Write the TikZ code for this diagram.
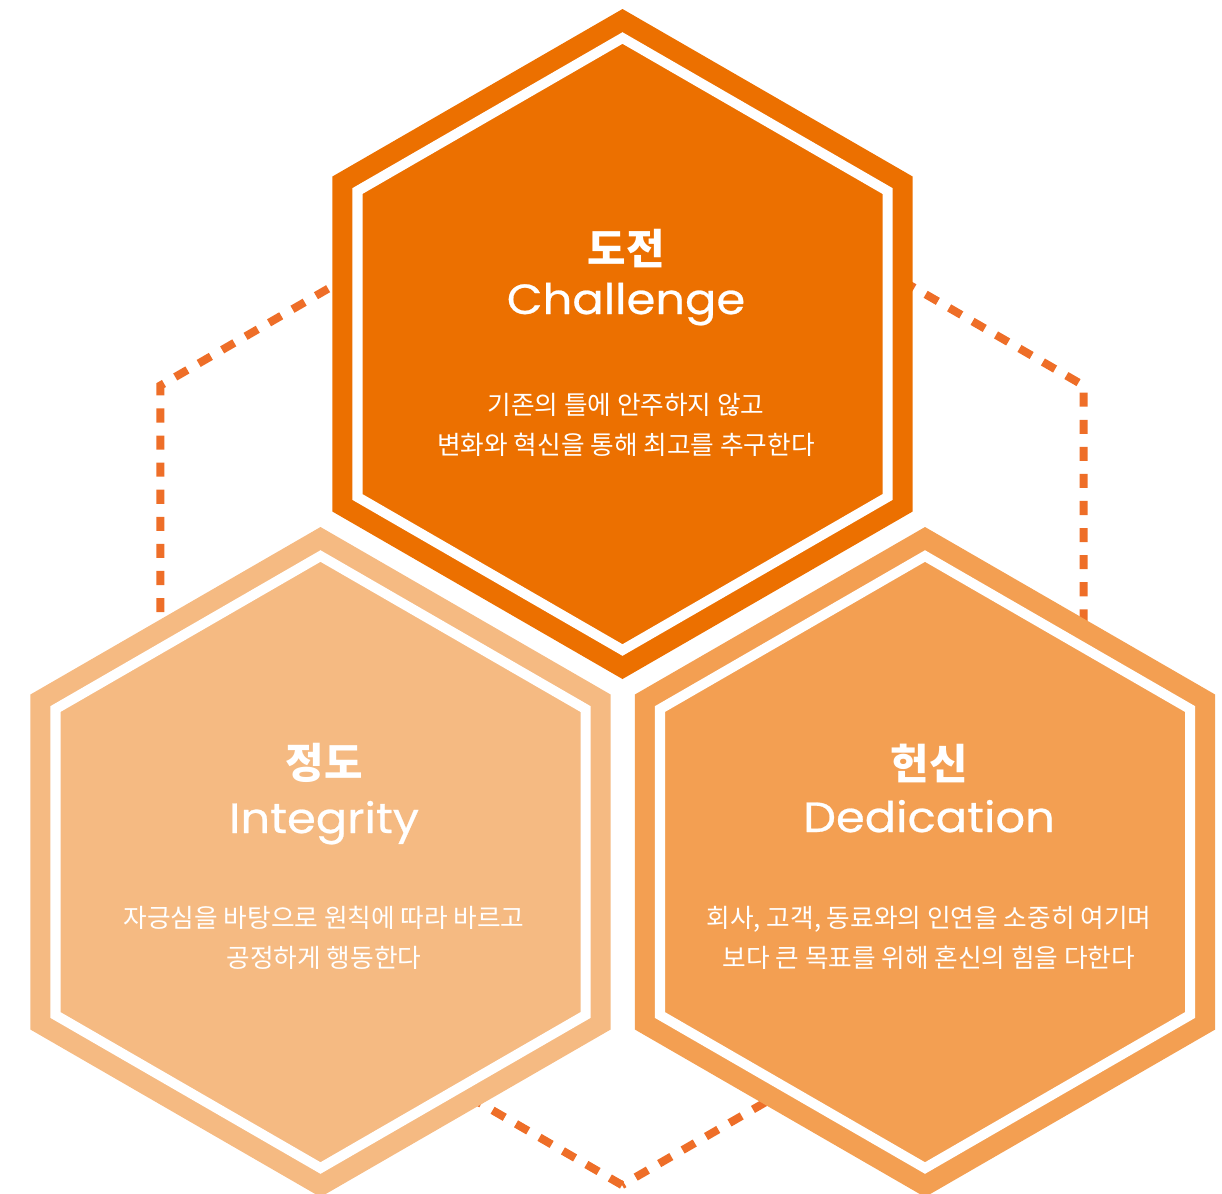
\documentclass[tikz,border=0pt]{standalone}
\usepackage{fontspec}
\setmainfont{Poppins}
\newfontfamily\enfont{Poppins}[FakeStretch=1.1,FakeBold=0.6]
\newfontfamily\krfont{Noto Sans CJK KR}
\usepackage{tikz}
\usetikzlibrary{calc}

\definecolor{chalcol}{HTML}{EC7000}
\definecolor{integcol}{HTML}{F5BA82}
\definecolor{dedicol}{HTML}{F39F52}
\definecolor{dotcol}{HTML}{EE6E28}

\newcommand{\hexcell}[2]{%
	\fill[#2,shift={(#1)}](90:335)--(150:335)--(210:335)--(270:335)--(330:335)--(30:335)--cycle;
	\draw[white,line width=2.85pt,shift={(#1)}](90:306)--(150:306)--(210:306)--(270:306)--(330:306)--(30:306)--cycle;
}

\begin{document}
\begin{tikzpicture}[x=0.01cm,y=-0.01cm,
		krtitle/.style={text=white,font=\krfont\bfseries\fontsize{11.9pt}{12pt}\selectfont},
		entitle/.style={text=white,anchor=base,font=\enfont\fontsize{12pt}{12pt}\selectfont},
		krbody/.style={text=white,align=center,font=\krfont\fontsize{7.3pt}{11.4pt}\selectfont}]
	\useasboundingbox(0,0)rectangle(1222,1193);
	\coordinate(chal)at(622.5,344);
	\coordinate(integ)at(320.5,862);
	\coordinate(dedi)at(925,862);
	\coordinate(outer)at(622,652);
	% dotted frame behind the cells
	\draw[dotcol,line width=2.3pt,dash pattern=on 4pt off 3.7pt,shift={(outer)}]
		(90:533)--(150:533)--(210:533)--(270:533)--(330:533)--(30:533)--cycle;
	\hexcell{chal}{chalcol}
	\hexcell{integ}{integcol}
	\hexcell{dedi}{dedicol}
	% top
	\node[krtitle](chalkr)at(626,249){도전};
	\node[entitle](chalen)at(626,314){Challenge};
	\node[krbody](chaltxt)at(626,425){기존의 틀에 안주하지 않고\\변화와 혁신을 통해 최고를 추구한다};
	% left
	\node[krtitle](integkr)at(324,763){정도};
	\node[entitle](integen)at(324,833){Integrity};
	\node[krbody](integtxt)at(324,938){자긍심을 바탕으로 원칙에 따라 바르고\\공정하게 행동한다};
	% right
	\node[krtitle](dedikr)at(929,763){헌신};
	\node[entitle](dedien)at(929,832){Dedication};
	\node[krbody](deditxt)at(929,938){회사, 고객, 동료와의 인연을 소중히 여기며\\보다 큰 목표를 위해 혼신의 힘을 다한다};
\end{tikzpicture}
\end{document}
